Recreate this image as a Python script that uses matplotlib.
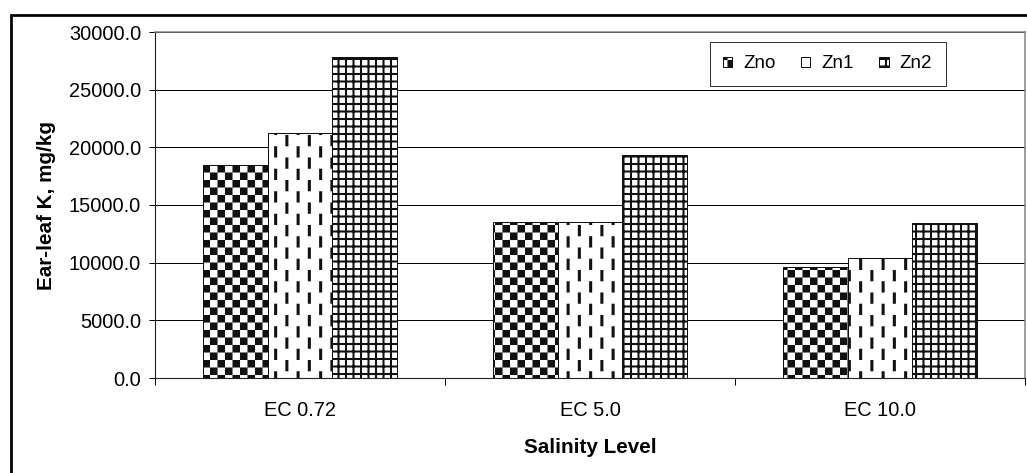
import warnings
import numpy as np
import matplotlib
matplotlib.use('Agg')
import matplotlib.pyplot as plt
import matplotlib.hatch as mhatch
from matplotlib.path import Path
from matplotlib.patches import Rectangle
from matplotlib.ticker import FixedLocator, FormatStrFormatter

warnings.filterwarnings('ignore')

# data
categories = ['EC 0.72', 'EC 5.0', 'EC 10.0']
series = ['Zno', 'Zn1', 'Zn2']
zno = [18500, 13550, 9600]
zn1 = [21200, 13550, 10400]
zn2 = [27850, 19350, 13400]
yticks = [0, 5000, 10000, 15000, 20000, 25000, 30000]

DPI = 90
W, H = 1027, 473


# Excel-like fill patterns, built from filled rectangles inside the unit hatch tile
class BlockHatch(mhatch.HatchPatternBase):
    key = None

    def __init__(self, hatch, density):
        self.blocks = self.blocks_list() if (hatch and self.key in hatch) else []
        self.num_vertices = 5 * len(self.blocks)

    def set_vertices_and_codes(self, vertices, codes):
        for k, (x0, y0, w, h) in enumerate(self.blocks):
            vertices[5*k:5*k+5] = [(x0, y0), (x0 + w, y0), (x0 + w, y0 + h),
                                   (x0, y0 + h), (x0, y0)]
            codes[5*k:5*k+5] = [Path.MOVETO, Path.LINETO, Path.LINETO,
                                Path.LINETO, Path.CLOSEPOLY]


class CheckerHatch(BlockHatch):
    key = 'k'

    def blocks_list(self):
        n = 12
        c = 1.0 / n
        return [(i*c, j*c, c, c) for i in range(n) for j in range(n)
                if (i + j) % 2 == 0]


class DashHatch(BlockHatch):
    key = 'i'

    def blocks_list(self):
        n = 8
        c = 1.0 / n
        bw = 3.0 / DPI
        return [(i*c + (c - bw) / 2, j*c, bw, c) for i in range(n)
                for j in range(n) if (i + j) % 2 == 0]


class GridHatch(BlockHatch):
    key = 'g'

    def blocks_list(self):
        n = 12
        t = 2.0 / DPI
        return ([(i / n, 0.0, t, 1.0) for i in range(n)] +
                [(0.0, j / n, 1.0, t) for j in range(n)])


mhatch._hatch_types.extend([CheckerHatch, DashHatch, GridHatch])

plt.rcParams['font.family'] = ['Liberation Sans', 'DejaVu Sans']
plt.rcParams['hatch.linewidth'] = 0.05

fig = plt.figure(figsize=(W / DPI, H / DPI), dpi=DPI)
ax = fig.add_axes([155 / W, (H - 378) / H, 870 / W, 346 / H])

x = np.arange(len(categories))
bw = 0.224
for k, (vals, hatch) in enumerate(zip([zno, zn1, zn2], ['k', 'i', 'g'])):
    ax.bar(x + (k - 1) * bw, vals, bw, facecolor='white', edgecolor='#111111',
           linewidth=0.8, hatch=hatch, label=series[k], zorder=2)

ax.set_xlim(-0.5, 2.5)
ax.set_ylim(0, 30000)
ax.set_yticks(yticks)
ax.yaxis.set_major_formatter(FormatStrFormatter('%.1f'))
ax.set_xticks(x)
ax.set_xticklabels(categories)
ax.xaxis.set_minor_locator(FixedLocator([-0.5, 0.5, 1.5, 2.5]))

ax.yaxis.grid(True, color='black', linewidth=0.8)
ax.set_axisbelow(True)

for s in ['left', 'bottom']:
    ax.spines[s].set_color('#222222')
    ax.spines[s].set_linewidth(0.9)
for s in ['top', 'right']:
    ax.spines[s].set_color('#808080')
    ax.spines[s].set_linewidth(1.2)

ax.tick_params(axis='y', direction='out', length=5, width=0.8, pad=6,
               labelsize=16)
ax.tick_params(axis='x', which='major', length=0, pad=18, labelsize=16)
ax.tick_params(axis='x', which='minor', direction='out', length=5.5, width=0.8)

ax.set_xlabel('Salinity Level', fontsize=16.5, fontweight='bold', labelpad=15)
ax.set_ylabel('Ear-leaf K, mg/kg', fontsize=16.5, fontweight='bold', labelpad=10)

leg = ax.legend(loc='center', bbox_to_anchor=(827.5 / W, 1 - 64 / H),
                bbox_transform=fig.transFigure, ncol=3, frameon=True,
                fancybox=False, edgecolor='black', fontsize=15,
                handlelength=0.5, handleheight=0.5, handletextpad=0.6,
                columnspacing=1.35, borderpad=0.7, borderaxespad=0)
leg.get_frame().set_linewidth(0.8)

# outer chart frame (runs off the right and bottom of the picture)
fig.add_artist(Rectangle((10.5 / W, -1), 2, 2 - 14.5 / H, transform=fig.transFigure,
                         fill=False, edgecolor='black', linewidth=2.2,
                         clip_on=False))

fig.savefig('out.png', dpi=DPI)
